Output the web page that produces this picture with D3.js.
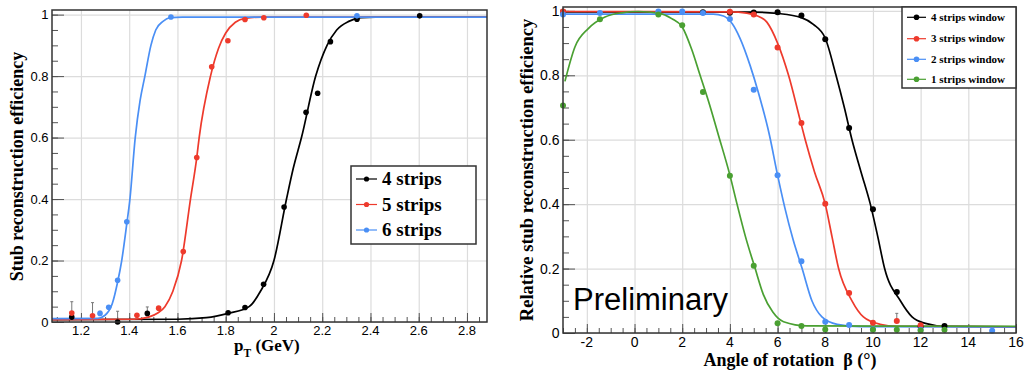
<!DOCTYPE html>
<html>
<head>
<meta charset="utf-8">
<script src="https://cdn.jsdelivr.net/npm/d3@7"></script>
<style>
  html, body { margin: 0; padding: 0; background: #fff; }
  svg { display: block; }
  .tick-label { font-family: "Liberation Sans", Arial, sans-serif; fill: #000; }
  .title { font-family: "Liberation Serif", "Times New Roman", serif; font-weight: bold; fill: #000; }
</style>
</head>
<body>
<svg id="chart" width="1026" height="374"></svg>
<script>
// ---------- left panel: efficiency vs pT ----------
const ptSeries = ["4 strips", "5 strips", "6 strips"];

const pt4X = [1.162, 1.352, 1.475, 1.81, 1.88, 1.957, 2.042, 2.133, 2.181, 2.234, 2.344, 2.604];
const pt4Y = [0.016, 0.0, 0.028, 0.03, 0.047, 0.123, 0.374, 0.682, 0.744, 0.912, 0.985, 0.996];
const pt5X = [1.162, 1.248, 1.432, 1.522, 1.624, 1.68, 1.742, 1.809, 1.88, 1.958, 2.134];
const pt5Y = [0.029, 0.02, 0.022, 0.045, 0.229, 0.535, 0.83, 0.915, 0.984, 0.99, 0.998];
const pt6X = [1.279, 1.315, 1.352, 1.39, 1.573, 2.344];
const pt6Y = [0.028, 0.048, 0.136, 0.326, 0.992, 0.996];

// fit curves
const fit4X = [1.08, 1.60, 1.72, 1.81, 1.897, 1.944, 2.0, 2.052, 2.08, 2.114, 2.173, 2.22, 2.26, 2.31, 2.36, 2.42, 2.883];
const fit4Y = [0.008, 0.009, 0.014, 0.028, 0.05, 0.1, 0.2, 0.4, 0.5, 0.6, 0.8, 0.9, 0.95, 0.978, 0.99, 0.992, 0.992];
const fit5X = [1.08, 1.42, 1.48, 1.52, 1.548, 1.581, 1.617, 1.654, 1.68, 1.69, 1.737, 1.77, 1.80, 1.84, 1.88, 1.95, 2.883];
const fit5Y = [0.008, 0.009, 0.016, 0.03, 0.05, 0.1, 0.2, 0.4, 0.535, 0.6, 0.8, 0.89, 0.94, 0.975, 0.988, 0.992, 0.992];
const fit6X = [1.08, 1.27, 1.30, 1.33, 1.352, 1.369, 1.39, 1.403, 1.425, 1.445, 1.465, 1.49, 1.51, 1.54, 1.57, 1.62, 2.883];
const fit6Y = [0.011, 0.012, 0.022, 0.06, 0.13, 0.2, 0.32, 0.4, 0.6, 0.72, 0.8, 0.9, 0.95, 0.978, 0.99, 0.992, 0.992];

// error bars (x, low, high)
const ptErrX = [1.162, 1.248, 1.279, 1.352, 1.475];
const ptErrLo = [0.016, 0.02, 0.028, 0.0, 0.028];
const ptErrHi = [0.066, 0.063, 0.035, 0.035, 0.049];

const ptXTicks = [1.2, 1.4, 1.6, 1.8, 2.0, 2.2, 2.4, 2.6, 2.8];
const ptYTicks = [0, 0.2, 0.4, 0.6, 0.8, 1];

// ---------- right panel: efficiency vs rotation angle ----------
const angSeries = ["4 strips window", "3 strips window", "2 strips window", "1 strips window"];

const ang4X = [-3, 2.87, 4, 5, 6, 7, 8, 9, 10, 11, 12, 13];
const ang4Y = [0.997, 0.996, 0.994, 0.995, 0.996, 0.986, 0.912, 0.636, 0.384, 0.127, 0.02, 0.022];
const ang3X = [-3, 4, 5, 6, 7, 8, 9, 10, 11, 12];
const ang3Y = [0.998, 0.997, 0.989, 0.886, 0.652, 0.401, 0.124, 0.032, 0.037, 0.024];
const ang2X = [-3, -1.45, 1, 2, 2.87, 4, 5, 6, 7, 8, 9, 10, 12, 15];
const ang2Y = [0.989, 0.993, 0.998, 0.998, 0.993, 0.975, 0.755, 0.49, 0.223, 0.035, 0.025, 0.012, 0.01, 0.007];
const ang1X = [-3, -1.45, 1, 2, 2.87, 4, 5, 6, 7, 8, 10, 11, 12, 13];
const ang1Y = [0.706, 0.974, 0.989, 0.955, 0.748, 0.488, 0.209, 0.03, 0.022, 0.011, 0.01, 0.01, 0.008, 0.01];

const afit4X = [-3, 5, 6, 7, 7.5, 8, 8.45, 8.8, 9.12, 9.5, 9.89, 10.2, 10.49, 11.15, 11.64, 12.2, 13, 16];
const afit4Y = [0.997, 0.996, 0.992, 0.979, 0.958, 0.915, 0.8, 0.7, 0.6, 0.5, 0.4, 0.3, 0.2, 0.1, 0.05, 0.03, 0.021, 0.019];
const afit3X = [-3, 4, 4.7, 5.13, 5.55, 6, 6.46, 6.95, 7.16, 7.55, 8.0, 8.28, 8.56, 9.12, 9.6, 10.3, 11, 16];
const afit3Y = [0.998, 0.997, 0.993, 0.985, 0.965, 0.9, 0.8, 0.66, 0.6, 0.5, 0.4, 0.3, 0.2, 0.1, 0.05, 0.027, 0.021, 0.019];
const afit2X = [-3, 3.3, 3.73, 4.1, 4.43, 4.85, 5.2, 5.66, 6.0, 6.3, 6.65, 7.03, 7.44, 7.86, 8.5, 9.5, 16];
const afit2Y = [0.99, 0.99, 0.984, 0.96, 0.914, 0.83, 0.745, 0.614, 0.49, 0.39, 0.29, 0.2, 0.1, 0.05, 0.027, 0.02, 0.019];
const afit1X = [-2.92, -2.5, -1.94, -1.24, -0.54, 0.16, 1, 1.56, 2.0, 2.4, 2.75, 3.1, 3.52, 4.0, 4.3, 4.65, 5.06, 5.4, 5.8, 6.25, 7.23, 16];
const afit1Y = [0.781, 0.888, 0.945, 0.981, 0.994, 0.998, 0.993, 0.976, 0.95, 0.88, 0.8, 0.72, 0.614, 0.49, 0.4, 0.3, 0.2, 0.12, 0.065, 0.035, 0.022, 0.021];

const angErrX = [11];
const angErrLo = [0.037];
const angErrHi = [0.061];

const angXTicks = [-2, 0, 2, 4, 6, 8, 10, 12, 14, 16];
const angYTicks = [0, 0.2, 0.4, 0.6, 0.8, 1];

// colours
const cBlack = "#000000", cRed = "#ee3a2c", cBlue = "#4a8ff5", cGreen = "#4aa032";

const zip = (xs, ys) => xs.map((x, i) => [x, ys[i]]);
const svg = d3.select("#chart");

function drawPanel(p) {
  const x = d3.scaleLinear().domain(p.xDomain).range([p.left, p.right]);
  const y = d3.scaleLinear().domain(p.yDomain).range([p.bottom, p.top]);
  const g = svg.append("g");
  const h = p.bottom - p.top, w = p.right - p.left;

  // grid
  g.append("g").attr("transform", `translate(0,${p.bottom})`)
    .call(d3.axisBottom(x).tickValues(p.xTicks).tickSize(-h).tickFormat(""))
    .call(a => a.select(".domain").remove())
    .call(a => a.selectAll("line").attr("stroke", "#dcdcdc").attr("stroke-width", 1.2));
  g.append("g").attr("transform", `translate(${p.left},0)`)
    .call(d3.axisLeft(y).tickValues(p.yTicks).tickSize(-w).tickFormat(""))
    .call(a => a.select(".domain").remove())
    .call(a => a.selectAll("line").attr("stroke", "#dcdcdc").attr("stroke-width", 1.2));

  // minor + major ticks (inside)
  g.append("g").attr("transform", `translate(0,${p.bottom})`)
    .call(d3.axisBottom(x).tickValues(p.xMinor).tickSize(-5).tickFormat(""))
    .call(a => a.select(".domain").remove())
    .call(a => a.selectAll("line").attr("stroke", "#555"));
  g.append("g").attr("transform", `translate(0,${p.bottom})`)
    .call(d3.axisBottom(x).tickValues(p.xTicks).tickSize(-9).tickFormat(""))
    .call(a => a.select(".domain").remove())
    .call(a => a.selectAll("line").attr("stroke", "#555"));
  g.append("g").attr("transform", `translate(${p.left},0)`)
    .call(d3.axisLeft(y).tickValues(p.yMinor).tickSize(-6).tickFormat(""))
    .call(a => a.select(".domain").remove())
    .call(a => a.selectAll("line").attr("stroke", "#555"));
  g.append("g").attr("transform", `translate(${p.left},0)`)
    .call(d3.axisLeft(y).tickValues(p.yTicks).tickSize(-12).tickFormat(""))
    .call(a => a.select(".domain").remove())
    .call(a => a.selectAll("line").attr("stroke", "#555"));

  // tick labels
  g.selectAll(".xl").data(p.xTicks).join("text")
    .attr("class", "tick-label").attr("font-size", p.tickFont)
    .attr("x", d => x(d)).attr("y", p.bottom + p.xLabelOff)
    .attr("text-anchor", "middle").text(p.xFmt);
  g.selectAll(".yl").data(p.yTicks).join("text")
    .attr("class", "tick-label").attr("font-size", p.tickFont)
    .attr("x", p.left - 3.5).attr("y", d => y(d)).attr("dy", "0.36em")
    .attr("text-anchor", "end").text(p.yFmt);

  // error bars
  const errs = p.errX.map((v, i) => ({ x: v, lo: p.errLo[i], hi: p.errHi[i] }));
  g.selectAll(".err").data(errs).join("path")
    .attr("fill", "none").attr("stroke", "#777").attr("stroke-width", 1)
    .attr("d", d => `M${x(d.x)},${y(d.lo)}V${y(d.hi)}M${x(d.x) - 1.5},${y(d.hi)}H${x(d.x) + 1.5}`);

  // fits
  const line = d3.line().x(d => x(d[0])).y(d => y(d[1])).curve(d3.curveMonotoneX);
  p.series.forEach(s => {
    g.append("path").datum(zip(s.fx, s.fy))
      .attr("fill", "none").attr("stroke", s.color).attr("stroke-width", 1.7)
      .attr("d", line);
  });
  // points
  p.series.forEach(s => {
    g.append("g").selectAll("circle").data(zip(s.px, s.py)).join("circle")
      .attr("cx", d => x(d[0])).attr("cy", d => y(d[1])).attr("r", p.dotR)
      .attr("fill", s.color);
  });

  // frame
  g.append("rect").attr("x", p.left).attr("y", p.top).attr("width", w).attr("height", h)
    .attr("fill", "none").attr("stroke", "#333").attr("stroke-width", 1.5);

  // legend
  const L = p.legend;
  g.append("rect").attr("x", L.x0).attr("y", L.y0).attr("width", L.x1 - L.x0).attr("height", L.y1 - L.y0)
    .attr("fill", "#fff").attr("stroke", "#333").attr("stroke-width", 1.5);
  L.rows.forEach((r, i) => {
    const cy = L.rowY[i];
    g.append("line").attr("x1", L.lx0).attr("x2", L.lx1).attr("y1", cy).attr("y2", cy)
      .attr("stroke", r.color).attr("stroke-width", 1.2);
    g.append("circle").attr("cx", (L.lx0 + L.lx1) / 2).attr("cy", cy).attr("r", L.dotR).attr("fill", r.color);
    g.append("text").attr("class", "title").attr("font-size", L.font)
      .attr("x", L.tx).attr("y", cy).attr("dy", "0.33em").text(r.name);
  });
  return { x, y, g };
}

const range = (a, b, s) => d3.range(Math.round((b - a) / s) + 1).map(i => +(a + i * s).toFixed(4));

// left panel
const left = drawPanel({
  xDomain: [1.08, 2.883], yDomain: [0, 1.015],
  left: 52, right: 487, top: 10, bottom: 322,
  xTicks: ptXTicks, yTicks: ptYTicks,
  xMinor: range(1.1, 2.85, 0.05), yMinor: range(0, 1, 0.05),
  xFmt: d => String(+d.toFixed(1)), yFmt: d => String(+d.toFixed(1)),
  tickFont: 13, xLabelOff: 13,
  errX: ptErrX, errLo: ptErrLo, errHi: ptErrHi,
  dotR: 2.8,
  series: [
    { color: cBlack, px: pt4X, py: pt4Y, fx: fit4X, fy: fit4Y },
    { color: cRed, px: pt5X, py: pt5Y, fx: fit5X, fy: fit5Y },
    { color: cBlue, px: pt6X, py: pt6Y, fx: fit6X, fy: fit6Y }
  ],
  legend: {
    x0: 351, x1: 476, y0: 166, y1: 244, lx0: 356, lx1: 377, tx: 382, font: 19, dotR: 2.6,
    rowY: [179, 204.5, 230],
    rows: [
      { name: ptSeries[0], color: cBlack },
      { name: ptSeries[1], color: cRed },
      { name: ptSeries[2], color: cBlue }
    ]
  }
});

// right panel
const right = drawPanel({
  xDomain: [-3, 16], yDomain: [0, 1.012],
  left: 563, right: 1016, top: 7, bottom: 333,
  xTicks: angXTicks, yTicks: angYTicks,
  xMinor: range(-3, 16, 0.5), yMinor: range(0, 1, 0.05),
  xFmt: d => String(d), yFmt: d => String(+d.toFixed(1)),
  tickFont: 14, xLabelOff: 13.5,
  errX: angErrX, errLo: angErrLo, errHi: angErrHi,
  dotR: 3,
  series: [
    { color: cBlack, px: ang4X, py: ang4Y, fx: afit4X, fy: afit4Y },
    { color: cRed, px: ang3X, py: ang3Y, fx: afit3X, fy: afit3Y },
    { color: cBlue, px: ang2X, py: ang2Y, fx: afit2X, fy: afit2Y },
    { color: cGreen, px: ang1X, py: ang1Y, fx: afit1X, fy: afit1Y }
  ],
  legend: {
    x0: 902, x1: 1016, y0: 7, y1: 88, lx0: 907, lx1: 926, tx: 931, font: 11, dotR: 2.8,
    rowY: [17.3, 38.7, 59.3, 79.3],
    rows: [
      { name: angSeries[0], color: cBlack },
      { name: angSeries[1], color: cRed },
      { name: angSeries[2], color: cBlue },
      { name: angSeries[3], color: cGreen }
    ]
  }
});

// axis titles
svg.append("text").attr("class", "title").attr("font-size", 18)
  .attr("transform", "translate(23,166.5) rotate(-90)").attr("text-anchor", "middle")
  .text("Stub reconstruction efficiency");
const xt = svg.append("text").attr("class", "title").attr("font-size", 17)
  .attr("x", 234).attr("y", 351);
xt.append("tspan").text("p");
xt.append("tspan").attr("font-size", 11.5).attr("dy", 5.5).text("T");
xt.append("tspan").attr("dy", -5.5).text(" (GeV)");

svg.append("text").attr("class", "title").attr("font-size", 18.5)
  .attr("transform", "translate(533,170) rotate(-90)").attr("text-anchor", "middle")
  .text("Relative stub reconstruction efficiency");
svg.append("text").attr("class", "title").attr("font-size", 18)
  .attr("x", 790).attr("y", 366).attr("text-anchor", "middle")
  .text("Angle of rotation \u00a0\u03b2 (\u00b0)");

svg.append("text").attr("class", "tick-label").attr("font-size", 31)
  .attr("x", 573).attr("y", 310).text("Preliminary");
</script>
</body>
</html>
